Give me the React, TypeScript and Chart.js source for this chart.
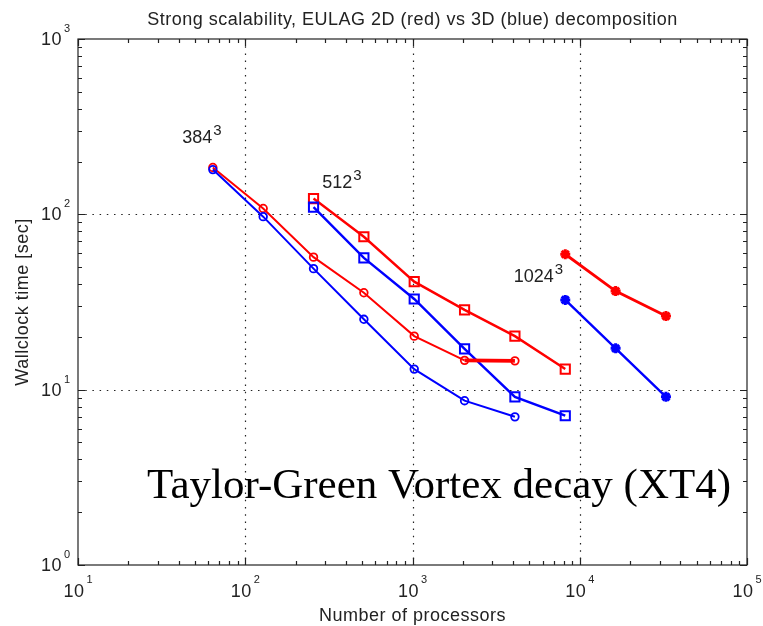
import React, { useEffect, useRef } from 'react';
import { Chart, registerables } from 'chart.js';

Chart.register(...registerables);

// ---- data ----
const procs384 = [64, 128, 256, 512, 1024, 2048, 4096];
const red384 = [185, 108, 57, 35.7, 20.2, 14.7, 14.6];
const blue384 = [180, 97, 49, 25.2, 13.1, 8.65, 7.0];

const procs512 = [256, 512, 1024, 2048, 4096, 8192];
const red512 = [123, 74.5, 41.3, 28.5, 20.2, 13.1];
const blue512 = [110, 56.5, 32.9, 17.1, 9.1, 7.1];

const procs1024 = [8192, 16384, 32768];
const red1024 = [59.2, 36.5, 26.3];
const blue1024 = [32.5, 17.2, 9.1];

const xExponents = [1, 2, 3, 4, 5];
const yExponents = [0, 1, 2, 3];

const titleText = 'Strong scalability, EULAG 2D (red) vs 3D (blue) decomposition';
const xTitle = 'Number of processors';
const yTitle = 'Wallclock time [sec]';

const gridLabels = [
  { text: '384', sup: '3', x: 42, y: 255 },
  { text: '512', sup: '3', x: 289, y: 141 },
  { text: '1024', sup: '3', x: 4030, y: 41.1 },
];
const noteText = 'Taylor-Green Vortex decay (XT4)';
const notePos = { x: 25.9, y: 2.41 };

const RED = '#ff0000';
const BLUE = '#0000ff';
const SANS = '"Liberation Sans", Arial, sans-serif';

const pts = (xs: number[], ys: number[]) => xs.map((x, i) => ({ x, y: ys[i] }));

const decorPlugin = {
  id: 'decor',
  beforeDatasetsDraw(chart: any) {
    const { ctx, chartArea: a, scales } = chart;
    const xs = scales.x;
    const ys = scales.y;
    ctx.save();
    ctx.strokeStyle = '#222';
    ctx.lineWidth = 1.2;
    ctx.setLineDash([1.5, 5.7]);
    xExponents.forEach((e) => {
      const v = Math.pow(10, e);
      if (v <= xs.min || v >= xs.max) return;
      const px = Math.round(xs.getPixelForValue(v)) + 0.5;
      ctx.beginPath();
      ctx.moveTo(px, a.top);
      ctx.lineTo(px, a.bottom);
      ctx.stroke();
    });
    yExponents.forEach((e) => {
      const v = Math.pow(10, e);
      if (v <= ys.min || v >= ys.max) return;
      const py = Math.round(ys.getPixelForValue(v)) + 0.5;
      ctx.beginPath();
      ctx.moveTo(a.left, py);
      ctx.lineTo(a.right, py);
      ctx.stroke();
    });
    ctx.restore();
  },
  afterDraw(chart: any) {
    const { ctx, chartArea: a, scales } = chart;
    const xs = scales.x;
    const ys = scales.y;
    ctx.save();
    // frame
    ctx.strokeStyle = '#222';
    ctx.lineWidth = 1.2;
    ctx.setLineDash([]);
    ctx.strokeRect(a.left, a.top, a.right - a.left, a.bottom - a.top);

    // ticks (inside, all four sides)
    const minor = 4;
    const major = 7;
    ctx.beginPath();
    for (let e = xExponents[0]; e <= xExponents[xExponents.length - 1]; e++) {
      for (let m = 1; m <= 9; m++) {
        const v = m * Math.pow(10, e);
        if (v < xs.min || v > xs.max) continue;
        const px = Math.round(xs.getPixelForValue(v)) + 0.5;
        const len = m === 1 ? major : minor;
        ctx.moveTo(px, a.bottom);
        ctx.lineTo(px, a.bottom - len);
        ctx.moveTo(px, a.top);
        ctx.lineTo(px, a.top + len);
      }
    }
    for (let e = yExponents[0]; e <= yExponents[yExponents.length - 1]; e++) {
      for (let m = 1; m <= 9; m++) {
        const v = m * Math.pow(10, e);
        if (v < ys.min || v > ys.max) continue;
        const py = Math.round(ys.getPixelForValue(v)) + 0.5;
        const len = m === 1 ? major : minor;
        ctx.moveTo(a.left, py);
        ctx.lineTo(a.left + len, py);
        ctx.moveTo(a.right, py);
        ctx.lineTo(a.right - len, py);
      }
    }
    ctx.stroke();

    ctx.fillStyle = '#222';
    const setFont = (size: number, sp = '0.5px') => {
      ctx.font = `${size}px ${SANS}`;
      (ctx as any).letterSpacing = sp;
    };

    // y tick labels
    yExponents.forEach((e) => {
      const py = ys.getPixelForValue(Math.pow(10, e));
      setFont(18);
      ctx.textAlign = 'right';
      ctx.textBaseline = 'alphabetic';
      ctx.fillText('10', a.left - 16, py + 6);
      setFont(11, '0px');
      ctx.textAlign = 'left';
      ctx.fillText(String(e), a.left - 14, py - 7);
    });

    // x tick labels
    xExponents.forEach((e) => {
      const px = xs.getPixelForValue(Math.pow(10, e));
      setFont(18);
      const w1 = ctx.measureText('10').width;
      setFont(11, '0px');
      const w2 = ctx.measureText(String(e)).width;
      const total = w1 + 2 + w2;
      const x0 = px - total / 2;
      ctx.textAlign = 'left';
      ctx.textBaseline = 'alphabetic';
      setFont(18);
      ctx.fillText('10', x0, a.bottom + 32);
      setFont(11, '0px');
      ctx.fillText(String(e), x0 + w1 + 2, a.bottom + 18);
    });

    // title
    setFont(18);
    ctx.textAlign = 'center';
    ctx.fillText(titleText, (a.left + a.right) / 2, 25);

    // x title
    ctx.fillText(xTitle, (a.left + a.right) / 2, a.bottom + 56);

    // y title
    ctx.save();
    ctx.translate(28, (a.top + a.bottom) / 2);
    ctx.rotate(-Math.PI / 2);
    ctx.textAlign = 'center';
    ctx.fillText(yTitle, 0, 0);
    ctx.restore();

    // grid size labels
    gridLabels.forEach((l) => {
      const px = xs.getPixelForValue(l.x);
      const py = ys.getPixelForValue(l.y);
      setFont(18, '0px');
      ctx.textAlign = 'left';
      ctx.fillText(l.text, px, py);
      const w = ctx.measureText(l.text).width;
      setFont(15, '0px');
      ctx.fillText(l.sup, px + w + 1, py - 8);
    });

    // note
    ctx.fillStyle = '#000';
    ctx.font = `43px "Liberation Serif", "Times New Roman", serif`;
    (ctx as any).letterSpacing = '0px';
    ctx.textAlign = 'left';
    ctx.fillText(noteText, xs.getPixelForValue(notePos.x), ys.getPixelForValue(notePos.y));
    ctx.restore();
  },
};

export default function App() {
  const ref = useRef<HTMLCanvasElement | null>(null);
  useEffect(() => {
    if (!ref.current) return;
    const mk = (label: string, xs: number[], ys: number[], color: string, style: string, radius: number, pbw: number, bw: any = 2) => ({
      label,
      data: pts(xs, ys),
      borderColor: color,
      backgroundColor: 'rgba(0,0,0,0)',
      borderWidth: typeof bw === 'number' ? bw : 2,
      segment: typeof bw === 'function' ? { borderWidth: bw } : undefined,
      showLine: true,
      pointStyle: style,
      pointRadius: radius,
      pointBorderWidth: pbw,
      pointBorderColor: color,
      pointBackgroundColor: 'rgba(0,0,0,0)',
      tension: 0,
    });
    const chart = new Chart(ref.current, {
      type: 'scatter',
      data: {
        datasets: [
          mk('384 3D', procs384, blue384, BLUE, 'circle', 3.8, 1.8),
          mk('384 2D', procs384, red384, RED, 'circle', 3.8, 1.8, (c: any) => (c.p0DataIndex === procs384.length - 2 ? 3.6 : 2)),
          mk('512 3D', procs512, blue512, BLUE, 'rect', 6.5, 2, 2.4),
          mk('512 2D', procs512, red512, RED, 'rect', 6.5, 2, 2.4),
          mk('1024 3D', procs1024, blue1024, BLUE, 'star', 5, 3, 2.4),
          mk('1024 2D', procs1024, red1024, RED, 'star', 5, 3, 2.8),
        ] as any,
      },
      options: {
        animation: false,
        responsive: true,
        maintainAspectRatio: false,
        events: [],
        layout: { padding: { left: 78, right: 16, top: 39, bottom: 61 } },
        plugins: { legend: { display: false }, tooltip: { enabled: false }, title: { display: false } },
        scales: {
          x: { type: 'logarithmic', min: 10, max: 100000, display: false },
          y: { type: 'logarithmic', min: 1, max: 1000, display: false },
        },
      },
      plugins: [decorPlugin],
    });
    return () => chart.destroy();
  }, []);
  return (
    <div style={{ position: 'fixed', left: 0, top: 0, width: 763, height: 626, background: '#fff' }}>
      <canvas ref={ref} />
    </div>
  );
}
